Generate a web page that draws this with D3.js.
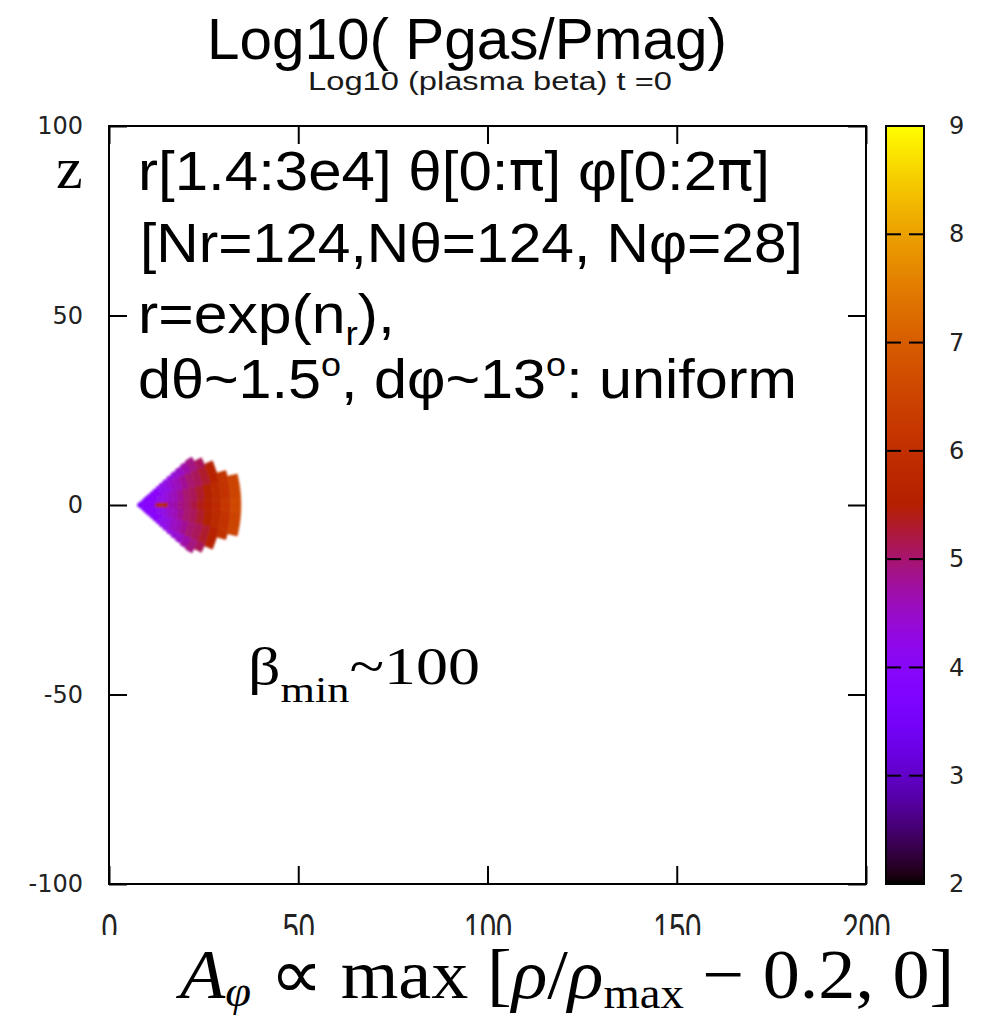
<!DOCTYPE html>
<html><head><meta charset="utf-8">
<script src="https://cdn.jsdelivr.net/npm/d3@7"></script>
<style>body{margin:0;background:#fff}svg{display:block}</style>
</head><body>
<svg id="chart" width="986" height="1019"></svg>
<script>
// ---- axis ticks ----
const xTicks = [0, 50, 100, 150, 200];
const zTicks = [-100, -50, 0, 50, 100];
const cbTicks = [2, 3, 4, 5, 6, 7, 8, 9];

// ---- torus on the log-spaced radial grid ----
// radial cell edges (r = exp(n_r)), only the cells the torus occupies
const cellR = [7.57, 8.20, 8.89, 9.63, 10.44, 11.31, 12.26, 13.28, 14.40, 15.60,
               16.91, 18.32, 19.86, 21.52, 23.32, 25.27, 27.39, 29.68, 32.16, 34.85];
// latitude reached by the torus in each radial cell (degrees from equator)
const cellLat = [3.1, 6.6, 9.7, 12.4, 14.9, 17.1, 19.2, 21.0, 22.7, 24.3,
                 25.7, 27.0, 28.1, 29.2, 30.0, 27.1, 23.1, 16.5, 13.6];
// latitude bands (degrees)
const latBands = [0, 3, 12, 22, 31];
// log10 plasma beta per radial cell (rows) and latitude band (columns)
const logBeta = [
  [3.6, 3.6, null, null],
  [3.8, 3.7, null, null],
  [3.9, 3.8, null, null],
  [4.0, 3.9, 3.8, null],
  [4.0, 4.0, 3.9, null],
  [4.1, 4.0, 3.9, null],
  [5.3, 4.1, 4.0, null],
  [5.7, 4.2, 4.1, null],
  [5.6, 4.3, 4.2, 4.1],
  [4.6, 4.5, 4.3, 4.2],
  [4.7, 4.6, 4.5, 4.3],
  [4.9, 4.8, 4.6, 4.4],
  [5.0, 5.0, 4.8, 4.5],
  [5.2, 5.1, 5.0, 4.7],
  [5.4, 5.3, 5.1, 4.9],
  [5.6, 5.5, 5.3, 5.1],
  [5.9, 5.8, 5.6, 5.5],
  [6.2, 6.1, 6.0, null],
  [6.6, 6.5, 6.4, null]
];

const svg = d3.select("#chart");
const W = 986, H = 1019;
const plot = {left: 109, right: 866, top: 126, bottom: 884};
const cbar = {left: 886, right: 924};

const xScale = d3.scaleLinear().domain([0, 200]).range([plot.left, plot.right]);
const zScale = d3.scaleLinear().domain([-100, 100]).range([plot.bottom, plot.top]);
const cScale = d3.scaleLinear().domain([2, 9]).range([plot.bottom, plot.top]);

// gnuplot default pm3d palette (rgbformulae 7,5,15)
function palette(t) {
  t = Math.max(0, Math.min(1, t));
  return d3.rgb(255 * Math.sqrt(t), 255 * t * t * t, 255 * Math.max(0, Math.sin(2 * Math.PI * t)));
}
const color = v => palette((v - cScale.domain()[0]) / (cScale.domain()[1] - cScale.domain()[0]));

const defs = svg.append("defs");
defs.append("clipPath").attr("id", "plotClip").append("rect")
  .attr("x", plot.left).attr("y", plot.top)
  .attr("width", plot.right - plot.left).attr("height", plot.bottom - plot.top);
// clip in the bottom axis' own coordinates (origin at the lower frame edge)
defs.append("clipPath").attr("id", "xlabClip").append("rect")
  .attr("x", 0).attr("y", -30).attr("width", W).attr("height", 81);
defs.append("filter").attr("id", "soft")
  .append("feGaussianBlur").attr("stdDeviation", 0.8);

// ---- torus cells ----
const cells = [];
logBeta.forEach((row, i) => {
  row.forEach((v, j) => {
    if (v === null) return;
    const lo = latBands[j], hi = Math.min(latBands[j + 1], cellLat[i]);
    if (lo >= hi) return;
    [1, -1].forEach(s => cells.push({r0: cellR[i], r1: cellR[i + 1], lo, hi, s, v}));
  });
});
const line = d3.line().x(d => xScale(d[0])).y(d => zScale(d[1]));
function cellPath(c) {
  const n = Math.max(2, Math.ceil(c.hi - c.lo) + 1);
  const pts = [];
  for (let k = 0; k < n; k++) {
    const a = (c.lo + (c.hi - c.lo) * k / (n - 1)) * Math.PI / 180;
    pts.push([c.r1 * Math.cos(a), c.s * c.r1 * Math.sin(a)]);
  }
  for (let k = n - 1; k >= 0; k--) {
    const a = (c.lo + (c.hi - c.lo) * k / (n - 1)) * Math.PI / 180;
    pts.push([c.r0 * Math.cos(a), c.s * c.r0 * Math.sin(a)]);
  }
  return line(pts) + "Z";
}
svg.append("g").attr("clip-path", "url(#plotClip)")
  .append("g").attr("filter", "url(#soft)")
  .selectAll("path").data(cells).join("path")
  .attr("d", cellPath)
  .attr("fill", d => color(d.v))
  .attr("stroke", d => color(d.v))
  .attr("stroke-width", 0.6);

// ---- axes (inward ticks on all four sides) ----
const tickFont = "'DejaVu Sans', sans-serif";
const plain = d => String(d);
function styleAxis(g) {
  g.select(".domain").remove();
  g.selectAll(".tick line").attr("stroke", "#000").attr("stroke-width", 2);
}
svg.append("g").attr("transform", `translate(${plot.left},0)`)
  .call(d3.axisLeft(zScale).tickValues(zTicks).tickFormat(plain).tickSizeInner(-18).tickSizeOuter(0).tickPadding(26))
  .call(styleAxis)
  .call(g => g.selectAll("text").attr("font-family", tickFont).attr("font-size", 24).attr("fill", "#222"));
svg.append("g").attr("transform", `translate(${plot.right},0)`)
  .call(d3.axisRight(zScale).tickValues(zTicks).tickSizeInner(-18).tickSizeOuter(0).tickFormat(() => ""))
  .call(styleAxis);
svg.append("g").attr("transform", `translate(0,${plot.top})`)
  .call(d3.axisTop(xScale).tickValues(xTicks).tickSizeInner(-18).tickSizeOuter(0).tickFormat(() => ""))
  .call(styleAxis);
const xAxis = svg.append("g").attr("transform", `translate(0,${plot.bottom})`)
  .call(d3.axisBottom(xScale).tickValues(xTicks).tickFormat(plain).tickSizeInner(-18).tickSizeOuter(0).tickPadding(30))
  .call(styleAxis);
xAxis.selectAll(".tick text")
  .attr("font-family", "'Liberation Sans Narrow', 'Liberation Sans', sans-serif")
  .attr("font-size", 40).attr("fill", "#222")
  .attr("textLength", d => String(d).length * 16)
  .attr("lengthAdjust", "spacingAndGlyphs");
xAxis.attr("clip-path", "url(#xlabClip)");

svg.append("rect")
  .attr("x", plot.left).attr("y", plot.top)
  .attr("width", plot.right - plot.left).attr("height", plot.bottom - plot.top)
  .attr("fill", "none").attr("stroke", "#000").attr("stroke-width", 2);

// ---- colour bar ----
const grad = defs.append("linearGradient").attr("id", "cbGrad")
  .attr("x1", 0).attr("y1", 1).attr("x2", 0).attr("y2", 0);
d3.range(0, 101).forEach(k => {
  grad.append("stop").attr("offset", k / 100).attr("stop-color", palette(k / 100).formatHex());
});
svg.append("rect")
  .attr("x", cbar.left).attr("y", cScale(9))
  .attr("width", cbar.right - cbar.left).attr("height", cScale(2) - cScale(9))
  .attr("fill", "url(#cbGrad)").attr("stroke", "#000").attr("stroke-width", 2);
const inner = cbTicks.slice(1, -1);
svg.append("g").selectAll("line").data(inner.flatMap(v => [[cbar.left, cbar.left + 15, v], [cbar.right - 15, cbar.right, v]]))
  .join("line")
  .attr("x1", d => d[0]).attr("x2", d => d[1])
  .attr("y1", d => cScale(d[2])).attr("y2", d => cScale(d[2]))
  .attr("stroke", "#000").attr("stroke-width", 2);
svg.append("g").attr("transform", `translate(${cbar.right},0)`)
  .call(d3.axisRight(cScale).tickValues(cbTicks).tickFormat(plain).tickSize(0).tickPadding(25))
  .call(g => g.select(".domain").remove())
  .call(g => g.selectAll("text").attr("font-family", tickFont).attr("font-size", 24).attr("fill", "#222"));

// ---- text helpers ----
function fitted(x, y, width, anchor, build) {
  const g = svg.append("g");
  const t = g.append("text").attr("text-anchor", anchor);
  build(t);
  const w = t.node().getComputedTextLength();
  g.attr("transform", `translate(${x},${y}) scale(${width / w},1)`);
  return t;
}
const sans = "'Liberation Sans', Arial, sans-serif";
const serif = "'Liberation Serif', 'Times New Roman', serif";
const pi = t => t.append("tspan").attr("font-family", "'DejaVu Sans', sans-serif").text("π");

// title and subtitle
fitted(467, 59, 520, "middle", t => t.attr("font-family", sans).attr("font-size", 57).text("Log10( Pgas/Pmag)"));
fitted(490, 90, 364, "middle", t => t.attr("font-family", sans).attr("font-size", 26).attr("fill", "#1a1a1a").text("Log10 (plasma beta) t =0"));

// grid description
fitted(138, 190, 632, "start", t => {
  t.attr("font-family", sans).attr("font-size", 56);
  t.append("tspan").text("r[1.4:3e4] θ[0:");
  pi(t);
  t.append("tspan").text("] φ[0:2");
  pi(t);
  t.append("tspan").text("]");
});
fitted(140, 262, 663, "start", t => t.attr("font-family", sans).attr("font-size", 56).text("[Nr=124,Nθ=124, Nφ=28]"));
fitted(138, 333, 257, "start", t => {
  t.attr("font-family", sans).attr("font-size", 56);
  t.append("tspan").text("r=exp(n");
  t.append("tspan").attr("font-size", 34).attr("dy", 12).text("r");
  t.append("tspan").attr("dy", -12).text("),");
});
fitted(138, 398, 659, "start", t => {
  t.attr("font-family", sans).attr("font-size", 56);
  t.append("tspan").text("dθ~1.5");
  t.append("tspan").attr("font-size", 34).attr("dy", -22).text("o");
  t.append("tspan").attr("dy", 22).text(", dφ~13");
  t.append("tspan").attr("font-size", 34).attr("dy", -22).text("o");
  t.append("tspan").attr("dy", 22).text(": uniform");
});

// minimum beta note
fitted(248, 684, 232, "start", t => {
  t.attr("font-family", serif).attr("font-size", 52);
  t.append("tspan").text("β");
  t.append("tspan").attr("font-size", 36).attr("dy", 18).text("min");
  t.append("tspan").attr("dy", -18).text("~100");
});

// vertical axis name
svg.append("text").attr("x", 56).attr("y", 188)
  .attr("font-family", serif).attr("font-size", 60).text("z");

// vector potential prescription
fitted(180, 998, 775, "start", t => {
  t.attr("font-family", serif).attr("font-size", 70);
  t.append("tspan").attr("font-style", "italic").text("A");
  t.append("tspan").attr("font-style", "italic").attr("font-size", 44).attr("dy", 8).text("φ");
  t.append("tspan").attr("dy", -8).text(" ∝ max ");
  t.append("tspan").text("[");
  t.append("tspan").attr("font-style", "italic").text("ρ");
  t.append("tspan").text("/");
  t.append("tspan").attr("font-style", "italic").text("ρ");
  t.append("tspan").attr("font-size", 44).attr("dy", 10).text("max");
  t.append("tspan").attr("dy", -10).text(" − 0.2, 0]");
});
</script>
</body></html>
